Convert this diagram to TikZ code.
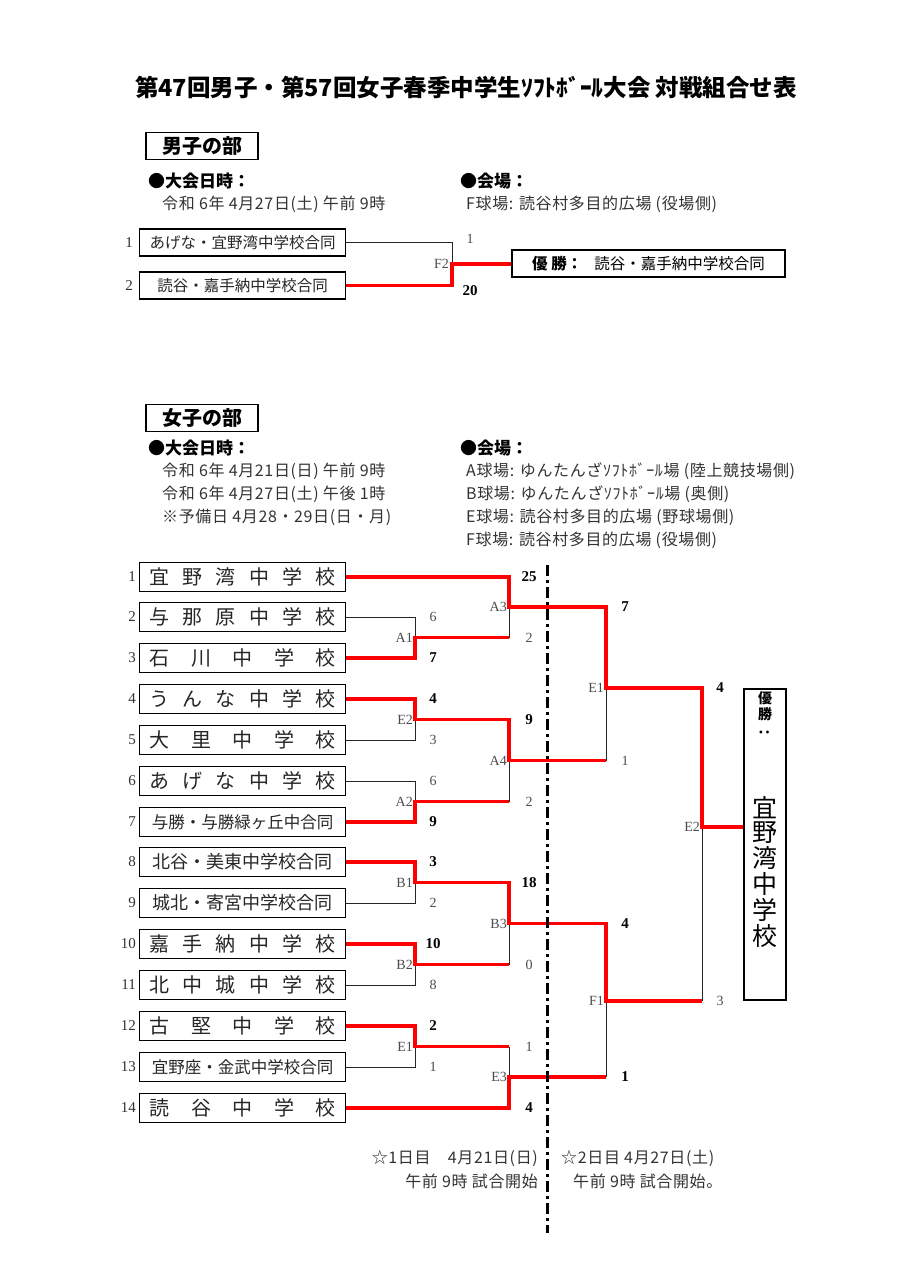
\documentclass[tikz,border=0pt]{standalone}
\usepackage{fontspec}
\setmainfont{Noto Sans CJK JP}
\newfontfamily\numfont{Liberation Serif}
\newfontfamily\widefont{Noto Sans CJK JP}[LetterSpace=4]
\usetikzlibrary{positioning}

% school names spread over the width of the box
\newcommand\spreadname[1]{\makebox[186pt][s]{#1}}

\begin{document}
\begin{tikzpicture}[x=1pt, y=-1pt,
    team/.style={draw, line width=1.1pt, minimum width=206pt, minimum height=29pt, inner sep=0pt, text=black!85},
    seed/.style={anchor=east, inner sep=1pt, font=\numfont\fontsize{15}{15}\selectfont, text=black!80},
    win/.style={red, line width=3.9pt},
    lose/.style={black!85, line width=0.9pt},
    score/.style={font=\numfont\fontsize{14}{14}\selectfont, text=black!70},
    topscore/.style={font=\numfont\bfseries\fontsize{15}{15}\selectfont},
    game/.style={anchor=east, inner sep=1pt, font=\numfont\fontsize{14}{14}\selectfont, text=black!70},
    info/.style={anchor=west, inner sep=0pt, font=\widefont\fontsize{16}{16}\selectfont, text=black!80},
    head/.style={anchor=west, inner sep=0pt, font=\bfseries\fontsize{17}{17}\selectfont},
    section/.style={draw, line width=1.1pt, minimum width=112pt, minimum height=27pt, inner sep=0pt, font=\bfseries\fontsize{20}{20}\selectfont}]
\useasboundingbox[fill=white] (0,0) rectangle (905,1280);

% Title
\node[font=\bfseries\fontsize{23.5}{23.5}\selectfont] (title) at (466,88) {第47回男子・第57回女子春季中学生ｿﾌﾄﾎﾞｰﾙ大会 対戦組合せ表};

% Boys
\node[section] (boys) at (202,146) {男子の部};
\node[head] (bdate) at (148,181) {●大会日時：};
\node[info] (bday) at (162,204) {令和 6年 4月27日(土) 午前 9時};
\node[head] (bplace) at (460,181) {●会場：};
\node[info] (bfield) at (466,204) {F球場: 読谷村多目的広場 (役場側)};

\node[team, minimum height=27pt, font=\fontsize{15.5}{15.5}\selectfont] (b1) at (242.5,242.5) {あげな・宜野湾中学校合同};
\node[team, minimum height=27pt, font=\fontsize{15.5}{15.5}\selectfont] (b2) at (242.5,285.5) {読谷・嘉手納中学校合同};
\node[seed] (bs1) at (134,242.5) {1};
\node[seed] (bs2) at (134,285.5) {2};
\node[draw, line width=1.1pt, minimum width=273pt, minimum height=27pt, inner sep=0pt, font=\fontsize{15.5}{15.5}\selectfont] (bchamp) at (648.5,263.5) {{\bfseries 優 勝：}\hspace{12pt}読谷・嘉手納中学校合同};

\coordinate (F2) at (452,264);
\draw[lose] (b1.east) -| (F2);
\draw[win] (b2.east) -| (F2) -- (F2 -| bchamp.west);
\node[game] (gF2) at (450,264) {F2};
\node[score] (bsc1) at (470,239) {1};
\node[topscore] (bsc2) at (470,291) {20};

% Girls
\node[section] (girls) at (202,418) {女子の部};
\node[head] (gdate) at (148,448) {●大会日時：};
\node[info] (gday1) at (162,471) {令和 6年 4月21日(日) 午前 9時};
\node[info] (gday2) at (162,494) {令和 6年 4月27日(土) 午後 1時};
\node[info] (gday3) at (162,517) {※予備日 4月28・29日(日・月)};
\node[head] (gplace) at (460,448) {●会場：};
\node[info] (fieldA) at (466,471) {A球場: ゆんたんざｿﾌﾄﾎﾞｰﾙ場 (陸上競技場側)};
\node[info] (fieldB) at (466,494) {B球場: ゆんたんざｿﾌﾄﾎﾞｰﾙ場 (奥側)};
\node[info] (fieldE) at (466,517) {E球場: 読谷村多目的広場 (野球場側)};
\node[info] (fieldF) at (466,540) {F球場: 読谷村多目的広場 (役場側)};

% Teams
\foreach \i/\y/\name in {
    1/577/{\fontsize{20}{20}\selectfont\spreadname{宜\hfill 野\hfill 湾\hfill 中\hfill 学\hfill 校}},
    2/617/{\fontsize{20}{20}\selectfont\spreadname{与\hfill 那\hfill 原\hfill 中\hfill 学\hfill 校}},
    3/658/{\fontsize{20}{20}\selectfont\spreadname{石\hfill 川\hfill 中\hfill 学\hfill 校}},
    4/699/{\fontsize{20}{20}\selectfont\spreadname{う\hfill ん\hfill な\hfill 中\hfill 学\hfill 校}},
    5/740/{\fontsize{20}{20}\selectfont\spreadname{大\hfill 里\hfill 中\hfill 学\hfill 校}},
    6/781/{\fontsize{20}{20}\selectfont\spreadname{あ\hfill げ\hfill な\hfill 中\hfill 学\hfill 校}},
    7/822/{\fontsize{16.5}{16.5}\selectfont 与勝・与勝緑ヶ丘中合同},
    8/862/{\fontsize{18}{18}\selectfont 北谷・美東中学校合同},
    9/903/{\fontsize{18}{18}\selectfont 城北・寄宮中学校合同},
    10/944/{\fontsize{20}{20}\selectfont\spreadname{嘉\hfill 手\hfill 納\hfill 中\hfill 学\hfill 校}},
    11/985/{\fontsize{20}{20}\selectfont\spreadname{北\hfill 中\hfill 城\hfill 中\hfill 学\hfill 校}},
    12/1026/{\fontsize{20}{20}\selectfont\spreadname{古\hfill 堅\hfill 中\hfill 学\hfill 校}},
    13/1067/{\fontsize{16.5}{16.5}\selectfont 宜野座・金武中学校合同},
    14/1108/{\fontsize{20}{20}\selectfont\spreadname{読\hfill 谷\hfill 中\hfill 学\hfill 校}}} {
    \node[team] (t\i) at (242.5,\y) {\name};
    \node[seed] (s\i) at (137,\y) {\i};
}

% Match points
\coordinate (A1) at (415,637.5);
\coordinate (E2r1) at (415,719.5);
\coordinate (A2) at (415,801.5);
\coordinate (B1) at (415,882.5);
\coordinate (B2) at (415,964.5);
\coordinate (E1r1) at (415,1046.5);
\coordinate (A3) at (509,607);
\coordinate (A4) at (509,760.5);
\coordinate (B3) at (509,923.5);
\coordinate (E3) at (509,1077);
\coordinate (E1r3) at (606,688);
\coordinate (F1) at (606,1001);
\coordinate (E2fin) at (702,827);

% Losing lines
\draw[lose] (t2.east) -| (A1);
\draw[lose] (t5.east) -| (E2r1);
\draw[lose] (t6.east) -| (A2);
\draw[lose] (t9.east) -| (B1);
\draw[lose] (t11.east) -| (B2);
\draw[lose] (t13.east) -| (E1r1);
\draw[lose] (A1 -| A3) -- (A3);
\draw[lose] (A2 -| A4) -- (A4);
\draw[lose] (B2 -| B3) -- (B3);
\draw[lose] (E1r1 -| E3) -- (E3);
\draw[lose] (A4 -| E1r3) -- (E1r3);
\draw[lose] (E3 -| F1) -- (F1);
\draw[lose] (F1 -| E2fin) -- (E2fin);

% Winner
\node[draw, line width=1.1pt, minimum width=42pt, minimum height=311pt, inner sep=0pt] (champ) at (765,844.5) {};
\node[font=\bfseries\fontsize{14}{16}\selectfont, inner sep=0pt] (champlabel) at (765,706) {\shortstack{優\\勝}};
\node[font=\bfseries\fontsize{14}{14}\selectfont, rotate=-90, inner sep=0pt] (champcolon) at (764,732) {：};
\node[font=\fontsize{25}{28}\selectfont, inner sep=0pt] (champname) at (765,872) {\shortstack{宜\\野\\湾\\中\\学\\校}};

% Winning lines
\draw[win] (t1.east) -| (A3) -| (E1r3) -| (E2fin) -- (E2fin -| champ.west);
\draw[win] (t3.east) -| (A1) -- (A1 -| A3);
\draw[win] (t4.east) -| (E2r1) -| (A4) -- (A4 -| E1r3);
\draw[win] (t7.east) -| (A2) -- (A2 -| A4);
\draw[win] (t8.east) -| (B1) -| (B3) -| (F1) -- (F1 -| E2fin);
\draw[win] (t10.east) -| (B2) -- (B2 -| B3);
\draw[win] (t12.east) -| (E1r1) -- (E1r1 -| E3);
\draw[win] (t14.east) -| (E3) -- (E3 -| F1);

% Day divider
\coordinate (divtop) at (547,565);
\coordinate (divbot) at (547,1233);
\draw[line width=3pt, dash pattern=on 11pt off 4pt on 3pt off 4pt] (divtop) -- (divbot);

% Match names
\foreach \p/\t in {A1/A1, E2r1/E2, A2/A2, B1/B1, B2/B2, E1r1/E1, A3/A3, A4/A4, B3/B3, E3/E3, E1r3/E1, F1/F1, E2fin/E2}
    \node[game] (g\p) at ([xshift=-1pt]\p) {\t};

% Scores
\foreach \n/\x/\y/\s in {a/433/658/7, b/529/577/25, c/433/699/4, d/529/719.5/9, e/433/822/9,
    f/625/607/7, g/720/688/4, h/433/862/3, i/529/882.5/18, j/433/944/10, k/625/923.5/4,
    l/433/1026/2, m/529/1108/4, n/625/1077/1}
    \node[topscore] (w\n) at (\x,\y) {\s};
\foreach \n/\x/\y/\s in {a/433/617/6, b/529/637.5/2, c/433/740/3, d/529/801.5/2, e/433/781/6,
    f/625/760.5/1, g/433/903/2, h/433/985/8, i/529/964.5/0, j/433/1067/1, k/529/1046.5/1,
    l/720/1001/3}
    \node[score] (l\n) at (\x,\y) {\s};

% Notes
\node[info, anchor=east] (day1a) at (538,1158) {☆1日目　4月21日(日)};
\node[info, anchor=east] (day1b) at (538,1181) {午前 9時 試合開始};
\node[info] (day2a) at (561,1158) {☆2日目 4月27日(土)};
\node[info] (day2b) at (573,1181) {午前 9時 試合開始。};
\end{tikzpicture}
\end{document}
